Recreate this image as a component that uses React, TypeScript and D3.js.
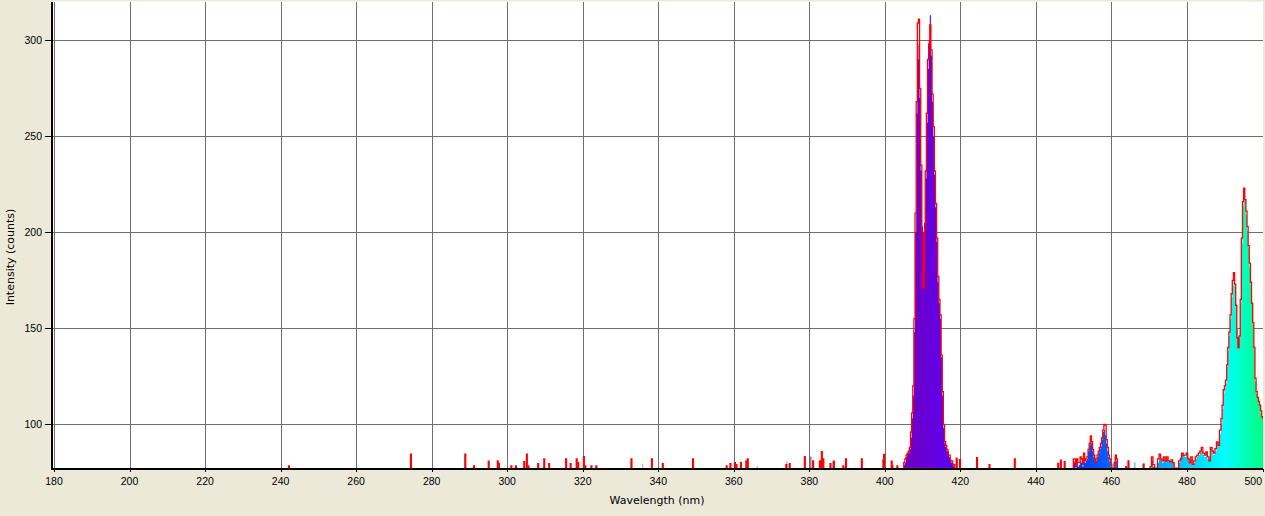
import React from 'react';
import * as d3 from 'd3';

// ---------- data ----------
const xTickValues = [180, 200, 220, 240, 260, 280, 300, 320, 340, 360, 380, 400, 420, 440, 460, 480, 500];
const yTickValues = [100, 150, 200, 250, 300];
const xDomain: [number, number] = [180, 500];
const yDomain: [number, number] = [77.2, 320];
const spikeWidthNm = 0.22;

// Violet band (~405-418 nm)
const violetNm = [405.0, 405.3, 405.6, 405.9, 406.2, 406.5, 406.8, 407.1, 407.4, 407.7, 408.0, 408.3, 408.6, 408.9, 409.2, 409.5, 409.8, 410.1, 410.4, 410.7, 411.0, 411.3, 411.6, 411.9, 412.2, 412.5, 412.8, 413.1, 413.4, 413.7, 414.0, 414.3, 414.6, 414.9, 415.2, 415.5, 415.8, 416.1, 416.4, 416.7, 417.0, 417.3, 417.6, 417.9, 418.2];
const violetCounts = [79, 80, 83, 85, 85, 87, 93, 103, 115, 148, 200, 262, 290, 298, 270, 232, 203, 182, 205, 228, 257, 285, 300, 313, 292, 268, 250, 230, 213, 195, 174, 163, 155, 135, 115, 98, 90, 88, 86, 86, 83, 82, 80, 80, 78];
const violetRedCounts = [80, 82, 84, 85, 86, 88, 96, 106, 120, 155, 210, 268, 309, 311, 275, 235, 200, 171, 200, 232, 262, 290, 298, 308, 295, 272, 255, 232, 215, 197, 177, 165, 157, 136, 117, 100, 91, 89, 87, 84, 84, 81, 81, 79, 79];

// Blue band (~450-461 nm)
const blueNm = [449.9, 450.2, 450.5, 450.8, 451.1, 451.4, 451.7, 452.0, 452.3, 452.6, 452.9, 453.2, 453.5, 453.8, 454.1, 454.4, 454.7, 455.0, 455.3, 455.6, 455.9, 456.2, 456.5, 456.8, 457.1, 457.4, 457.7, 458.0, 458.3, 458.6, 458.9, 459.2, 459.5, 459.8, 460.1, 460.4, 460.7, 461.0, 461.3];
const blueCounts = [80, 81, 77, 80, 78, 79, 81, 80, 78, 82, 80, 81, 82, 86, 89, 93, 90, 86, 83, 80, 81, 83, 85, 87, 88.5, 92, 96, 97, 94.5, 90, 86, 83, 80.5, 78, 77, 77, 80, 84, 81];
const blueRedCounts = [82, 82, 78, 82, 80, 80, 83, 82, 79, 85, 81, 82, 83, 87, 90, 94, 91, 87, 84, 80, 82, 84, 86, 88, 90, 93, 97, 100, 99.6, 92, 88, 84, 82, 79, 77, 77, 80, 84, 82];

// Cyan band (~470-500 nm)
const cyanNm = [470.2, 470.6, 471.0, 471.4, 471.8, 472.2, 472.6, 473.0, 473.4, 473.8, 474.2, 474.6, 475.0, 475.4, 475.8, 476.2, 476.6, 477.0, 477.4, 477.8, 478.2, 478.6, 479.0, 479.4, 479.8, 480.2, 480.6, 481.0, 481.4, 481.8, 482.2, 482.6, 483.0, 483.4, 483.8, 484.2, 484.6, 485.0, 485.4, 485.8, 486.2, 486.6, 487.0, 487.4, 487.8, 488.2, 488.6, 489.0, 489.3, 489.6, 489.9, 490.2, 490.5, 490.8, 491.1, 491.4, 491.7, 492.0, 492.3, 492.6, 492.9, 493.2, 493.5, 493.8, 494.1, 494.4, 494.7, 495.0, 495.3, 495.6, 495.9, 496.2, 496.5, 496.8, 497.1, 497.4, 497.7, 498.0, 498.3, 498.6, 498.9, 499.2, 499.5, 499.8, 500.1];
const cyanCounts = [77, 81, 78, 77, 77, 80, 82, 81.8, 80, 82, 81, 82, 80.5, 80.5, 81, 79.8, 77, 77, 77, 80, 83, 84.8, 84, 83, 85.6, 83, 79.8, 82, 78.5, 80, 82, 83, 84, 85.6, 86, 84, 83, 85, 82, 81.5, 86, 88, 84, 86, 89, 90, 95, 100, 108, 116, 119, 121, 130, 138, 146, 155, 166, 172, 177, 172, 163, 150, 140, 145, 163, 194, 214, 220, 216, 209, 201, 192, 182, 173, 164, 152, 139, 122, 116, 114, 112, 110, 106, 104, 103];
const cyanRedCounts = [78, 83, 79, 77, 77, 82, 84.5, 82, 81, 83, 81, 83, 81, 80.5, 81.5, 80, 77, 77, 77, 81, 82, 85, 84, 84, 85, 82, 80, 83, 79, 81, 83, 84, 85, 86, 88, 85, 84, 85.6, 83, 81, 88, 86, 85, 87.3, 90.8, 89, 97, 103, 110, 118, 120, 123, 131, 140, 148, 157, 168, 175, 179, 173, 162, 145, 140, 146, 165, 197, 216, 223, 217, 211, 203, 193, 184, 174, 163, 153, 140, 124, 117, 114, 112, 110, 107, 104, 103];

// Isolated single-pixel spikes
const redSpikeNm = [242.1, 274.4, 288.8, 291.1, 295.0, 297.4, 297.7, 301.0, 302.2, 304.4, 305.1, 305.5, 308.1, 309.7, 311.0, 315.5, 316.7, 318.3, 318.7, 320.2, 320.6, 322.2, 323.5, 332.8, 338.2, 341.1, 349.1, 358.0, 359.0, 360.2, 360.6, 361.8, 363.2, 363.6, 373.8, 374.7, 378.7, 380.9, 382.7, 383.2, 383.6, 385.5, 386.4, 388.9, 389.6, 393.8, 399.5, 399.7, 401.7, 401.9, 403.2, 418.9, 419.8, 424.3, 427.6, 434.3, 445.8, 446.5, 447.5, 463.8, 464.4, 468.4];
const redSpikeCounts = [78.3, 84.5, 84.5, 78.3, 80.8, 81, 79.6, 78.3, 78.3, 80.6, 84.5, 78.3, 79.5, 82, 79.5, 82, 79.5, 82, 80, 83.2, 78.3, 78.3, 78.3, 82, 82, 79.5, 82, 78.3, 79.5, 80, 79, 80, 81, 82, 79, 79.5, 83.2, 81, 81, 85.8, 82, 79.5, 80.8, 78.3, 82, 82, 81.5, 84.4, 80.8, 78.3, 78.3, 82.4, 81.6, 82.6, 79, 82, 79.7, 81.4, 80.5, 77.9, 81, 79.3];
const colorSpikeNm = [242.0, 274.3, 288.7, 297.3, 305.0, 318.2, 332.7, 335.8, 361.8, 366.1, 373.9, 380.3, 383.2, 385.5, 386.2, 401.7, 419.0, 446.5, 466.1, 468.5];
const colorSpikeCounts = [78, 79, 84.5, 81, 81.7, 81, 82, 79.5, 80.8, 78.3, 80.8, 83.2, 85.8, 79.5, 80.8, 80.8, 81.5, 78.9, 80.2, 79.6];

// ---------- helpers ----------
type Pt = { w: number; v: number };

function spectrumColor(w: number): string {
  if (w < 380) return 'rgb(152,146,184)';
  let r = 0, g = 0, b = 0;
  if (w < 440) { r = (440 - w) / 60; b = 1; }
  else if (w < 490) { g = (w - 440) / 50; b = 1; }
  else if (w < 510) { g = 1; b = (510 - w) / 20; }
  else { r = (w - 510) / 70; g = 1; }
  let f = 1;
  if (w < 420) f = 0.3 + 0.7 * (w - 380) / 40;
  const c = (v: number) => Math.round(Math.max(0, Math.min(1, v * f)) * 255);
  return `rgb(${c(r)},${c(g)},${c(b)})`;
}

function bandPoints(nm: number[], counts: number[], lastWidth: number): Pt[] {
  const pts = nm.map((w, i) => ({ w, v: counts[i] }));
  const last = pts[pts.length - 1];
  pts.push({ w: last.w + lastWidth, v: last.v });
  return pts;
}

export default function App() {
  const W = 1265, H = 516;
  const plotLeft = 52.5, plotRight = 1263, plotTop = 1.5, plotBottom = 468.2;
  const x = d3.scaleLinear().domain(xDomain).range([54, 1262.5]);
  const y = d3.scaleLinear().domain(yDomain).range([468.1, 1.9]);
  const base = yDomain[0];

  const colorBands: Pt[][] = [
    bandPoints(violetNm, violetCounts, 0.3),
    bandPoints(blueNm, blueCounts, 0.3),
    bandPoints(cyanNm, cyanCounts, 0.3),
    ...colorSpikeNm.map((w, i) => bandPoints([w], [colorSpikeCounts[i]], spikeWidthNm)),
  ];
  const redBands: Pt[][] = [
    bandPoints(violetNm, violetRedCounts, 0.3),
    bandPoints(blueNm, blueRedCounts, 0.3),
    bandPoints(cyanNm, cyanRedCounts, 0.3),
    ...redSpikeNm.map((w, i) => bandPoints([w], [redSpikeCounts[i]], spikeWidthNm)),
  ];

  const area = d3.area<Pt>()
    .curve(d3.curveStepAfter)
    .x(d => x(d.w))
    .y0(y(base))
    .y1(d => y(Math.max(base, d.v)));

  const line = d3.line<Pt>()
    .curve(d3.curveStepAfter)
    .x(d => x(d.w))
    .y(d => y(Math.max(base, d.v)));

  const redPath = (pts: Pt[]) => {
    const first = pts[0], last = pts[pts.length - 1];
    return line([{ w: first.w, v: base }, ...pts, { w: last.w, v: base }]) || '';
  };

  const stops: { off: number; col: string }[] = [];
  for (let w = 180; w <= 500; w += 1) {
    stops.push({ off: (w - 180) / 320, col: spectrumColor(w) });
    if (w === 379) stops.push({ off: (379.99 - 180) / 320, col: spectrumColor(379.9) });
  }

  const tickFont = '"Liberation Sans", Arial, sans-serif';
  const titleFont = '"DejaVu Sans", Verdana, sans-serif';

  return (
    <div style={{ position: 'absolute', left: 0, top: 0 }}>
      <svg width={W} height={H} style={{ display: 'block' }}>
        <defs>
          <linearGradient id="spec" gradientUnits="userSpaceOnUse" x1={x(180)} x2={x(500)} y1={0} y2={0}>
            {stops.map((s, i) => (
              <stop key={i} offset={s.off} stopColor={s.col} />
            ))}
          </linearGradient>
          <clipPath id="plotClip">
            <rect x={plotLeft} y={plotTop} width={plotRight - plotLeft} height={plotBottom - plotTop} />
          </clipPath>
        </defs>
        <rect x={0} y={0} width={W} height={H} fill="#ECE9D8" />
        <rect x={plotLeft} y={plotTop} width={plotRight - plotLeft} height={plotBottom - plotTop} fill="#ffffff" />

        {/* gridlines */}
        <g stroke="#6e6e6e" strokeWidth={1} shapeRendering="crispEdges">
          {xTickValues.filter(t => t < 500).map(t => (
            <line key={'gx' + t} x1={Math.round(x(t)) + 0.5} x2={Math.round(x(t)) + 0.5} y1={plotTop} y2={plotBottom} />
          ))}
          {yTickValues.map(t => (
            <line key={'gy' + t} x1={plotLeft} x2={plotRight} y1={Math.round(y(t)) + 0.5} y2={Math.round(y(t)) + 0.5} />
          ))}
        </g>

        {/* spectrum */}
        <g clipPath="url(#plotClip)">
          {colorBands.map((pts, i) => (
            <path key={'c' + i} d={area(pts) || ''} fill="url(#spec)" />
          ))}
          {redBands.map((pts, i) => (
            <path key={'r' + i} d={redPath(pts)} fill="none" stroke="#ff0000" strokeWidth={1.3} strokeLinejoin="miter" />
          ))}
        </g>

        {/* axes */}
        <g shapeRendering="crispEdges">
          <rect x={51} y={plotTop} width={2} height={plotBottom - plotTop + 1.5} fill="#000" />
          <rect x={51} y={467.5} width={plotRight - 51} height={2} fill="#000" />
          {xTickValues.map(t => (
            <line key={'tx' + t} x1={Math.round(x(t)) + 0.5} x2={Math.round(x(t)) + 0.5} y1={469} y2={472} stroke="#000" />
          ))}
          {yTickValues.map(t => (
            <line key={'ty' + t} x1={45} x2={51} y1={Math.round(y(t)) + 0.5} y2={Math.round(y(t)) + 0.5} stroke="#000" />
          ))}
        </g>
        <g fontFamily={tickFont} fontSize={10.5} fill="#000">
          {xTickValues.map(t => (
            <text key={'lx' + t} x={t === 500 ? 1262 : x(t)} y={485} textAnchor={t === 500 ? 'end' : 'middle'}>{t}</text>
          ))}
          {yTickValues.map(t => (
            <text key={'ly' + t} x={42} y={y(t) + 3.8} textAnchor="end">{t}</text>
          ))}
        </g>
        <text x={657} y={504} textAnchor="middle" fontFamily={titleFont} fontSize={11} fill="#000">Wavelength (nm)</text>
        <text transform="translate(14,257) rotate(-90)" textAnchor="middle" fontFamily={titleFont} fontSize={11} fill="#000">Intensity (counts)</text>
      </svg>
    </div>
  );
}
